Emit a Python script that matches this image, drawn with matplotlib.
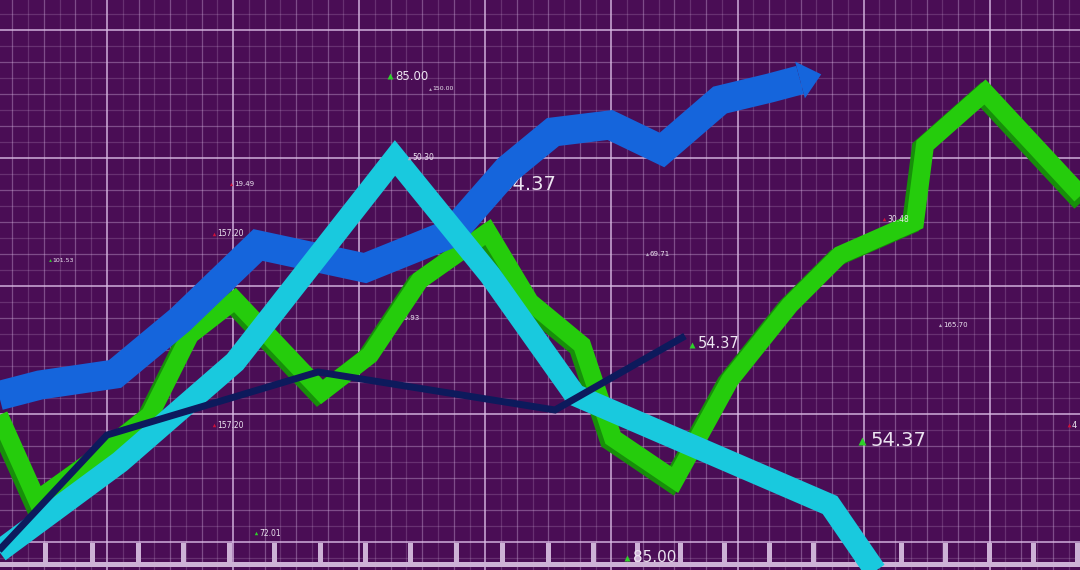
import numpy as np
import matplotlib
matplotlib.use("Agg")
import matplotlib.pyplot as plt
import matplotlib.patheffects as pe
from matplotlib.patches import Polygon, Rectangle

# --- data (picture is in pixel-like units, y grows downward) ---
blue_x = [-10, 40, 115, 180, 258, 365, 452, 508, 553, 610, 662, 720, 770, 800]
blue_y = [398, 385, 374, 320, 245, 268, 233, 169, 132, 125, 150, 100, 88, 80]

cyan_x = [-10, 120, 235, 395, 490, 575, 830, 885]
cyan_y = [558, 462, 362, 158, 275, 395, 505, 585]

green_x = [-10, 37, 90, 150, 190, 235, 322, 370, 420, 488, 530, 582, 613, 675, 730, 790, 840, 915, 925, 985, 1090]
green_y = [395, 500, 462, 415, 335, 300, 392, 355, 280, 232, 302, 345, 438, 480, 380, 305, 255, 222, 145, 92, 205]

navy_x = [-10, 107, 318, 555, 685]
navy_y = [560, 435, 372, 410, 336]

ruler_x = [45, 92, 138, 183, 229, 274, 320, 365, 410, 456, 502, 548, 593, 637,
           680, 724, 769, 813, 857, 901, 945, 989, 1033, 1077]

label_x = [395, 432, 234, 217, 52, 412, 500, 650, 399, 698, 217, 870, 887, 943, 259, 633, 1072]
label_y = [76, 89, 184, 234, 260, 158, 184, 254, 318, 344, 425, 440, 219, 325, 533, 557, 425]
label_text = ["85.00", "150.00", "19.49", "157.20", "101.53", "50.30", "54.37", "69.71",
              "16.93", "54.37", "157.20", "54.37", "30.48", "165.70", "72.01", "85.00", "4"]
label_size = [8.5, 4.5, 5, 5.5, 4.5, 5.5, 14, 5, 5, 10.5, 5.5, 14, 5.5, 5, 5.5, 11, 6]
label_mark = ["g", "w", "r", "r", "g", "w", "g", "w", "w", "g", "r", "g", "r", "w", "g", "g", "r"]
label_under = [False, False, False, False, False, False, True, False, True, False, False, False,
               False, False, False, False, False]

bg = "#4a0d55"
grid_c = "#dcbde6"
mark_colors = {"g": "#2fd12a", "r": "#d0103a", "w": "#b9a6c2"}

fig = plt.figure(figsize=(10.8, 5.7), dpi=100, facecolor=bg)
ax = fig.add_axes([0, 0, 1, 1])
ax.set_facecolor(bg)
ax.set_xlim(0, 1080)
ax.set_ylim(570, 0)
ax.axis("off")

# grid: fine, medium, major
vmaj = 107 + 126.1 * np.arange(-1, 9)
hmaj = 30 + 128 * np.arange(-1, 6)
for k in range(len(vmaj) - 1):
    for j in range(1, 8):
        x = vmaj[k] + (vmaj[k + 1] - vmaj[k]) * j / 8
        a = 0.36 if j % 2 == 0 else 0.2
        ax.axvline(x, color=grid_c, lw=0.9, alpha=a, zorder=1)
for k in range(len(hmaj) - 1):
    for j in range(1, 8):
        y = hmaj[k] + (hmaj[k + 1] - hmaj[k]) * j / 8
        a = 0.36 if j % 2 == 0 else 0.2
        ax.axhline(y, color=grid_c, lw=0.9, alpha=a, zorder=1)
for x in vmaj:
    ax.axvline(x, color=grid_c, lw=1.4, alpha=0.72, zorder=1.1)
for y in hmaj:
    ax.axhline(y, color=grid_c, lw=1.4, alpha=0.72, zorder=1.1)

# ruler at the bottom
ax.add_patch(Rectangle((0, 562), 1080, 5, color="#cdb2d6", zorder=1.5, lw=0))
for x in ruler_x:
    ax.add_patch(Rectangle((x - 2.5, 543), 5, 21, color="#cdb2d6", zorder=1.5, lw=0))

# labels
for x, y, t, s, m, u in zip(label_x, label_y, label_text, label_size, label_mark, label_under):
    z = 1.8 if u else 6
    ax.text(x, y, t, fontsize=s, color="#ece4f0", va="center", ha="left", zorder=z,
            family="DejaVu Sans")
    ax.plot(x - s * 0.55, y + s * 0.05, marker="^", ms=max(2, s * 0.45), color=mark_colors[m],
            mec="none", zorder=z)

# lines: green < blue < cyan < navy
ax.plot(green_x, green_y, color="#25cc0c", lw=13, solid_joinstyle="miter",
        solid_capstyle="butt", zorder=2,
        path_effects=[pe.SimpleLineShadow(offset=(-3, -2), shadow_color="#178f0a", alpha=1),
                      pe.Normal()])
ax.plot(blue_x, blue_y, color="#1565dc", lw=21, solid_joinstyle="miter",
        solid_capstyle="butt", zorder=3)

# arrow head derived from the last blue segment
p1 = np.array([blue_x[-2], blue_y[-2]], float)
p2 = np.array([blue_x[-1], blue_y[-1]], float)
d = (p2 - p1) / np.linalg.norm(p2 - p1)
n = np.array([-d[1], d[0]])
head = [p2 + n * 19, p2 + d * 22, p2 - n * 19]
ax.add_patch(Polygon(head, closed=True, color="#1565dc", lw=0, zorder=3))

ax.plot(cyan_x, cyan_y, color="#19c9de", lw=16, solid_joinstyle="miter",
        solid_capstyle="butt", zorder=4)
ax.plot(navy_x, navy_y, color="#0d1a5c", lw=5, solid_joinstyle="miter",
        solid_capstyle="butt", zorder=5)

fig.savefig("out.png", dpi=100, facecolor=bg)
